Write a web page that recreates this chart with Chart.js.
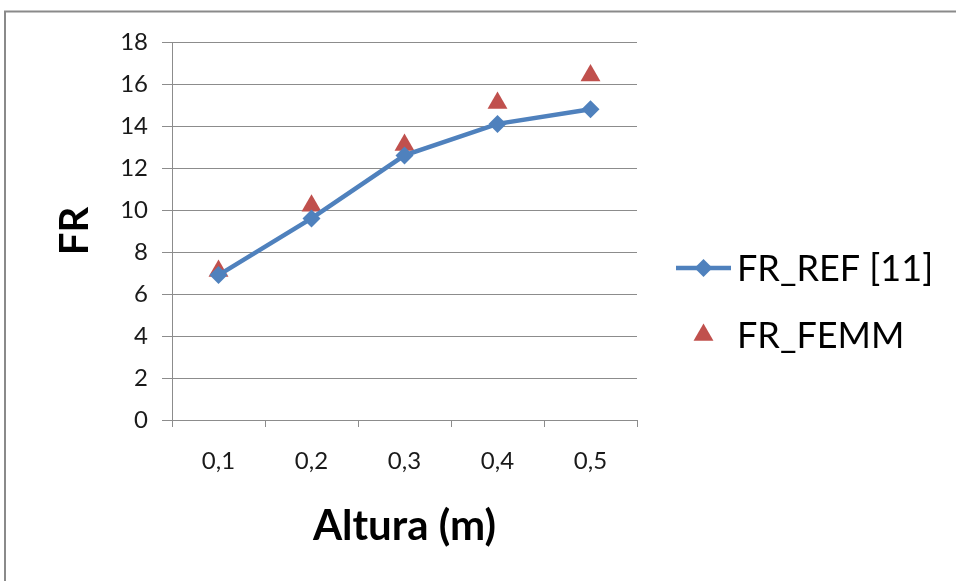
<!DOCTYPE html>
<html>
<head>
<meta charset="utf-8">
<script src="https://cdn.jsdelivr.net/npm/chart.js@4.4.0/dist/chart.umd.min.js"></script>
<style>
  html, body { margin: 0; padding: 0; background: #fff; }
  #wrap { position: relative; width: 956px; height: 581px; }
</style>
</head>
<body>
<div id="wrap"><canvas id="chart"></canvas></div>
<script>
// Data
const categories = ['0,1', '0,2', '0,3', '0,4', '0,5'];
const frRef = [6.9, 9.6, 12.6, 14.1, 14.8];
const frFemm = [7.1, 10.2, 13.1, 15.1, 16.4];
const seriesNames = ['FR_REF [11]', 'FR_FEMM'];
const yMin = 0, yMax = 18, yStep = 2;

const FONT = 'Lato, "Open Sans", sans-serif';
const BLUE = '#4F81BD';
const RED = '#C0504D';
const GRID = '#8c8c8c';

// outer frame (only left and top edges visible in the reference)
const framePlugin = {
    id: 'frame',
    beforeDraw(chart) {
        const ctx = chart.ctx;
        ctx.save();
        ctx.fillStyle = '#fff';
        ctx.fillRect(0, 0, chart.width, chart.height);
        ctx.strokeStyle = '#8a8a8a';
        ctx.lineWidth = 2;
        ctx.beginPath();
        ctx.moveTo(5, chart.height);
        ctx.lineTo(5, 11.5);
        ctx.lineTo(chart.width, 11.5);
        ctx.stroke();
        ctx.restore();
    }
};

// legend with line + marker sample, like the office chart
const legendPlugin = {
    id: 'sideLegend',
    afterDraw(chart) {
        const ctx = chart.ctx;
        const x0 = 676, x1 = 731, textX = 737;
        const rows = [268, 335];
        ctx.save();
        ctx.font = '36px ' + FONT;
        ctx.textBaseline = 'middle';
        chart.data.datasets.forEach((ds, i) => {
            const y = rows[i];
            if (ds.showLine !== false) {
                ctx.strokeStyle = ds.borderColor;
                ctx.lineWidth = ds.borderWidth;
                ctx.beginPath();
                ctx.moveTo(x0, y);
                ctx.lineTo(x1, y);
                ctx.stroke();
            }
            ctx.fillStyle = ds.pointBackgroundColor;
            ctx.strokeStyle = ds.pointBorderColor;
            Chart.helpers.drawPoint(ctx, {
                pointStyle: ds.pointStyle,
                radius: ds.pointRadius,
                rotation: 0,
                borderWidth: 0
            }, (x0 + x1) / 2, y);
            ctx.fillStyle = '#000';
            ctx.fillText(ds.label, textX, y + 1);
        });
        ctx.restore();
    }
};

new Chart(document.getElementById('chart'), {
    type: 'line',
    data: {
        labels: categories,
        datasets: [
            {
                label: seriesNames[0],
                data: frRef,
                borderColor: BLUE,
                backgroundColor: BLUE,
                borderWidth: 4.5,
                pointStyle: 'rectRot',
                pointRadius: 9,
                pointBackgroundColor: BLUE,
                pointBorderColor: BLUE,
                pointBorderWidth: 0,
                tension: 0
            },
            {
                label: seriesNames[1],
                data: frFemm,
                showLine: false,
                borderColor: RED,
                backgroundColor: RED,
                pointStyle: 'triangle',
                pointRadius: 11.5,
                pointBackgroundColor: RED,
                pointBorderColor: RED,
                pointBorderWidth: 0
            }
        ]
    },
    options: {
        responsive: true,
        maintainAspectRatio: false,
        animation: false,
        layout: { padding: { left: 0, right: 319, top: 42, bottom: 0 } },
        plugins: {
            legend: { display: false },
            tooltip: { enabled: false }
        },
        scales: {
            x: {
                offset: true,
                grid: {
                    offset: true,
                    drawOnChartArea: false,
                    color: GRID,
                    tickLength: 7
                },
                border: { color: GRID, width: 1 },
                ticks: {
                    color: '#1a1a1a',
                    padding: 20,
                    font: { family: FONT, size: 24 }
                },
                title: {
                    display: true,
                    text: 'Altura (m)',
                    color: '#000',
                    font: { family: FONT, size: 42, weight: 'bold' },
                    padding: { top: 0, bottom: 29 }
                },
                afterFit(scale) { scale.height = 161; }
            },
            y: {
                min: yMin,
                max: yMax,
                grid: {
                    color: GRID,
                    tickLength: 10
                },
                border: { color: GRID, width: 1 },
                ticks: {
                    stepSize: yStep,
                    color: '#1a1a1a',
                    padding: 14,
                    font: { family: FONT, size: 24 }
                },
                title: {
                    display: true,
                    text: 'FR',
                    color: '#000',
                    font: { family: FONT, size: 40, weight: 'bold' },
                    padding: { top: 51, bottom: 0 }
                },
                afterFit(scale) { scale.width = 172; }
            }
        }
    },
    plugins: [framePlugin, legendPlugin]
});
</script>
</body>
</html>
